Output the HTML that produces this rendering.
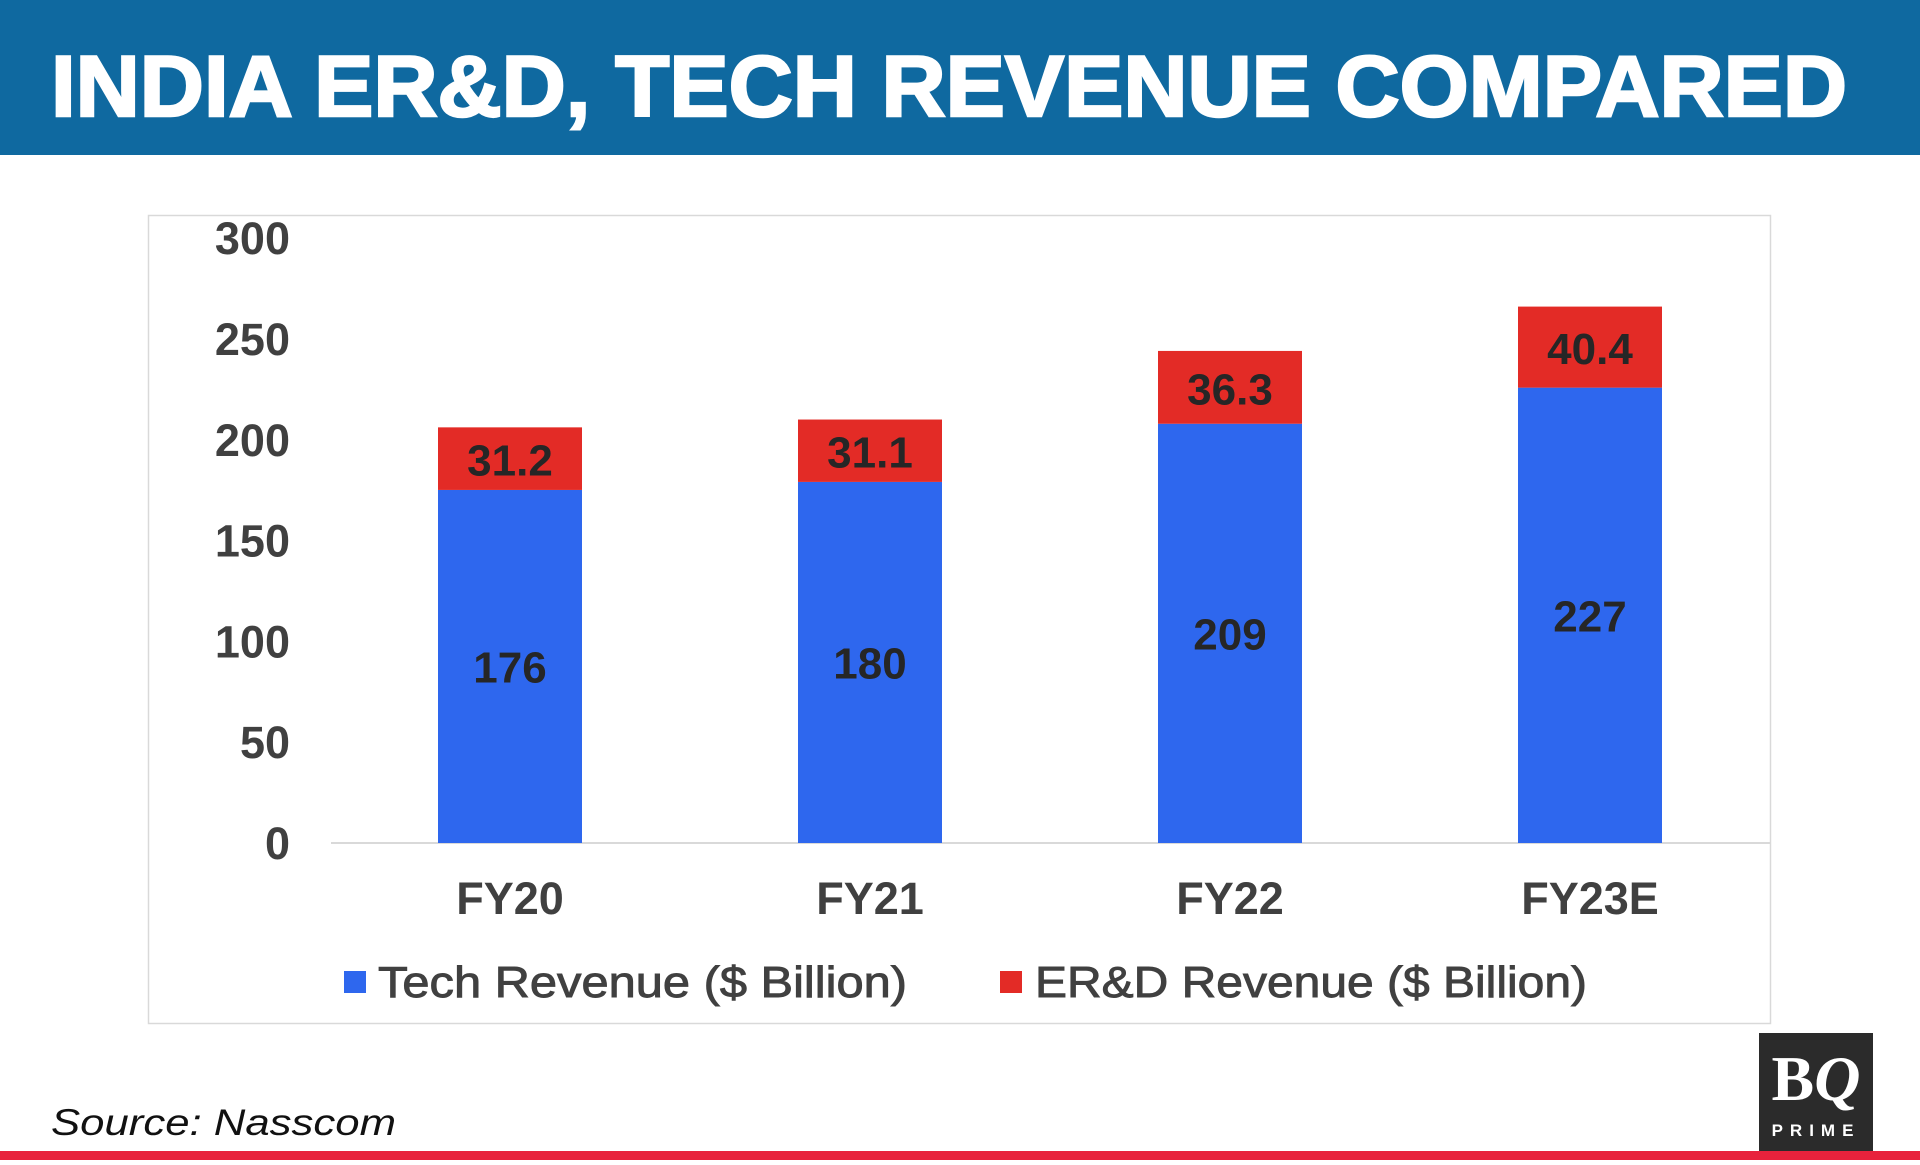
<!DOCTYPE html>
<html><head><meta charset="utf-8"><style>
body{margin:0;width:1920px;height:1160px;overflow:hidden;background:#fff;font-family:"Liberation Sans",Arial,sans-serif}
</style></head><body>
<svg id="chart" width="1920" height="1160" viewBox="0 0 1920 1160" xmlns="http://www.w3.org/2000/svg">
<rect x="0" y="0" width="1920" height="155" fill="#0f69a0"/>
<text x="51" y="116" font-size="86" font-weight="bold" fill="#fff" stroke="#fff" stroke-width="2.5" textLength="1796" lengthAdjust="spacingAndGlyphs">INDIA ER&amp;D, TECH REVENUE COMPARED</text>
<rect x="148.5" y="215.5" width="1622" height="808" fill="#fff" stroke="#d9d9d9" stroke-width="1.5"/>
<line x1="331" y1="843" x2="1770" y2="843" stroke="#d9d9d9" stroke-width="2"/>
<g id="yticks"></g><g id="bars"></g><g id="xlabels"></g>
<rect x="344" y="971" width="22" height="22" fill="#2e67ee"/>
<text x="378" y="997" font-size="44" fill="#404040" stroke="#404040" stroke-width="0.9" textLength="529" lengthAdjust="spacingAndGlyphs">Tech Revenue ($ Billion)</text>
<rect x="1000" y="971" width="22" height="22" fill="#e32b26"/>
<text x="1035" y="997" font-size="44" fill="#404040" stroke="#404040" stroke-width="0.9" textLength="552" lengthAdjust="spacingAndGlyphs">ER&amp;D Revenue ($ Billion)</text>
<text x="51" y="1135" font-size="37" font-style="italic" fill="#111" textLength="345" lengthAdjust="spacingAndGlyphs">Source: Nasscom</text>
<rect x="0" y="1151" width="1920" height="9" fill="#e8223c"/>
<g>
<rect x="1759" y="1033" width="114" height="118" fill="#2b2b2b"/>
<text x="1816" y="1100" font-family="Liberation Serif,serif" font-size="64" font-weight="bold" fill="#fff" text-anchor="middle">B<tspan font-style="italic">Q</tspan></text>
<text x="1816" y="1136" font-size="17" font-weight="bold" fill="#fff" text-anchor="middle" letter-spacing="7">PRIME</text>
</g>
</svg>
<script>
const categories=["FY20","FY21","FY22","FY23E"];
const techValues=[176,180,209,227];
const erdValues=[31.2,31.1,36.3,40.4];
const techLabels=["176","180","209","227"];
const erdLabels=["31.2","31.1","36.3","40.4"];
const yTicks=[0,50,100,150,200,250,300];
const NS="http://www.w3.org/2000/svg";
const y=v=>843-v*2.006;
const xc=i=>510+i*360;
const bw=144;
function mk(tag,attrs,parent,txt){const e=document.createElementNS(NS,tag);for(const k in attrs)e.setAttribute(k,attrs[k]);if(txt!==undefined)e.textContent=txt;parent.appendChild(e);return e;}
const yt=document.getElementById('yticks');
yTicks.forEach(v=>{const t=mk('text',{x:290,y:843-v*2.016+16,'font-size':45,'font-weight':'bold',fill:'#404040','text-anchor':'end'},yt,String(v));

});
const bars=document.getElementById('bars');
categories.forEach((c,i)=>{
 const t=techValues[i],e=erdValues[i];
 const b1=mk('rect',{x:xc(i)-bw/2,y:y(t),width:bw,height:y(0)-y(t),fill:'#2e67ee'},bars);
 
 
 const b2=mk('rect',{x:xc(i)-bw/2,y:y(t+e),width:bw,height:y(t)-y(t+e),fill:'#e32b26'},bars);
 
 
 const l1=mk('text',{x:xc(i),y:(y(t)+y(0))/2+16,'font-size':44,'font-weight':'bold',fill:'#262626','text-anchor':'middle'},bars,techLabels[i]);
 
 
 const l2=mk('text',{x:xc(i),y:(y(t)+y(t+e))/2+17,'font-size':44,'font-weight':'bold',fill:'#262626','text-anchor':'middle'},bars,erdLabels[i]);
 
 
});
const xl=document.getElementById('xlabels');
categories.forEach((c,i)=>{const t=mk('text',{x:xc(i),y:914,'font-size':45,'font-weight':'bold',fill:'#404040','text-anchor':'middle'},xl,c);

});
</script>
</body></html>
